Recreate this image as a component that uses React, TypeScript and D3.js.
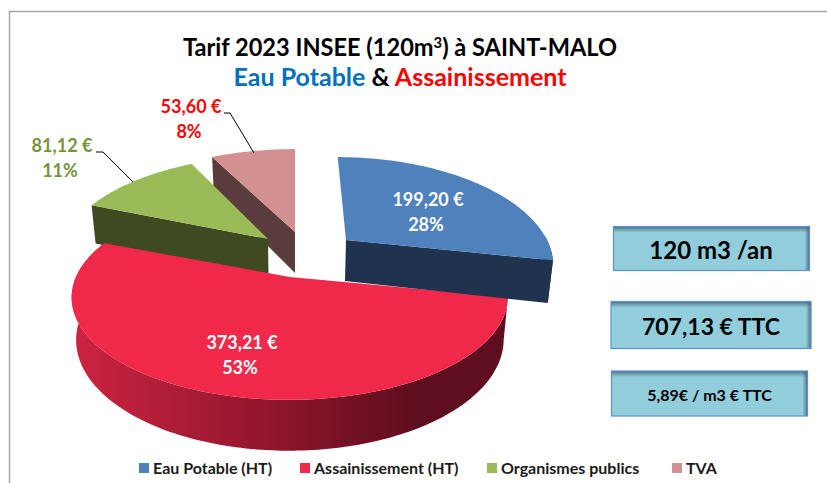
import React from "react";
import * as d3 from "d3";

const categories = ["Eau Potable (HT)", "Assainissement (HT)", "Organismes publics", "TVA"];
const values = [199.2, 373.21, 81.12, 53.6];
const titleLine1 = "Tarif 2023 INSEE (120m";
const titleLine1End = " à SAINT-MALO";
const boxTexts = ["120 m3 /an", "707,13 € TTC", "5,89€ / m3 € TTC"];

const topColors = ["#4f81bd", "#f0294a", "#9bbb59", "#d39090"];
const sideColors = ["#1f334f", "url(#redWall)", "#3f4a23", "#5a3c3c"];
// apex position and horizontal radius of each exploded slice
const apexX = [346, 290, 268, 295];
const apexY = [240, 277, 239, 232];
const radiiX = [201, 214, 205, 212];
const RY = 99, K = 0.194, VPX = 295, DEPTH = 41, SHRINK = 0.98;

const W = 827, H = 483;
const FONT = "Lato, Carlito, 'Open Sans', sans-serif";

const pie = d3.pie<number>().sort(null).startAngle(0).endAngle(2 * Math.PI);
const arcs = pie(values);
const total = d3.sum(values);
const fr = d3.formatLocale({ decimal: ",", thousands: " ", grouping: [3], currency: ["", " €"] });
const money = fr.format("$.2f");
const pct = (v: number) => d3.format(".0f")((v / total) * 100) + "%";

type Pt = [number, number];
function project(i: number, a: number, r = 1, bottom = false): Pt {
  const u = Math.sin(a) * r, v = Math.cos(a) * r;
  const w = 1 + K * v;
  let x = VPX + (apexX[i] - VPX + radiiX[i] * u) / w;
  let y = apexY[i] - (RY * v) / w;
  if (bottom) {
    x = VPX + (x - VPX) * SHRINK;
    y += DEPTH / w;
  }
  return [x, y];
}
const line = d3.line<Pt>().x((d) => d[0]).y((d) => d[1]);
const samples = (a0: number, a1: number) => {
  const n = Math.max(2, Math.ceil(Math.abs(a1 - a0) / 0.02));
  return d3.range(n + 1).map((k) => a0 + ((a1 - a0) * k) / n);
};
function topPath(i: number) {
  const { startAngle: a0, endAngle: a1 } = arcs[i];
  return line([project(i, 0, 0), ...samples(a0, a1).map((a) => project(i, a))]) + "Z";
}
function wallPath(i: number, a0: number, a1: number) {
  const t = samples(a0, a1).map((a) => project(i, a));
  const b = samples(a1, a0).map((a) => project(i, a, 1, true));
  return line([...t, ...b]) + "Z";
}
function radialPath(i: number, a: number) {
  return line([project(i, 0, 0), project(i, a), project(i, a, 1, true), project(i, 0, 0, true)]) + "Z";
}

const rad = (deg: number) => (deg * Math.PI) / 180;

const sliceLabels = [
  { i: 0, x: 428, y: 206, fill: "#fff" },
  { i: 1, x: 242, y: 349, fill: "#fff" },
  { i: 2, x: 62, y: 152, fill: "#77933c" },
  { i: 3, x: 191, y: 113, fill: "#ff0000" },
];
const leaders: Pt[][] = [
  [[96, 152], [103, 152], [133, 182]],
  [[224, 113], [230, 113], [254, 153]],
];
const boxes = [
  { x: 613.5, y: 226.5, w: 196, h: 44, fs: 24, tx: 711 },
  { x: 611, y: 301.5, w: 200, h: 47, fs: 23, tx: 711 },
  { x: 611.5, y: 371, w: 196, h: 45, fs: 16, tx: 709.5 },
];
const legendX = [139, 300, 487, 672];

export default function App() {
  return (
    <svg width={W} height={H} viewBox={`0 0 ${W} ${H}`}
      style={{ position: "absolute", left: 0, top: 0, display: "block", background: "#fff" }}
      fontFamily={FONT} fontWeight={700}>
      <defs>
        <linearGradient id="redWall" gradientUnits="userSpaceOnUse" x1={72} x2={415} y1={0} y2={0}>
          <stop offset="0" stopColor="#cc2441" />
          <stop offset="0.5" stopColor="#99172f" />
          <stop offset="1" stopColor="#5e0e1e" />
        </linearGradient>
        <linearGradient id="shTop" x1="0" x2="0" y1="0" y2="1">
          <stop offset="0" stopColor="#3f5f70" stopOpacity="0.85" />
          <stop offset="1" stopColor="#3f5f70" stopOpacity="0" />
        </linearGradient>
        <linearGradient id="shRight" x1="1" x2="0" y1="0" y2="0">
          <stop offset="0" stopColor="#3f5f70" stopOpacity="0.85" />
          <stop offset="1" stopColor="#3f5f70" stopOpacity="0" />
        </linearGradient>
      </defs>

      <path d="M9.5 483V11.5H827" fill="none" stroke="#a6a6a6" strokeWidth={1.5} />

      <text x={400} y={56} textAnchor="middle" fontSize={24} fill="#000" textLength={434} lengthAdjust="spacingAndGlyphs">
        {titleLine1}
        <tspan dy={-8} fontSize={15}>3</tspan>
        <tspan dy={8}>)</tspan>
        {titleLine1End}
      </text>
      <text x={400} y={86} textAnchor="middle" fontSize={25}>
        <tspan fill="#0070c0">Eau Potable</tspan>
        <tspan fill="#000"> &amp; </tspan>
        <tspan fill="#ff0000">Assainissement</tspan>
      </text>

      {/* TVA */}
      <path d={radialPath(3, arcs[3].startAngle)} fill={sideColors[3]} />
      <path d={topPath(3)} fill={topColors[3]} />
      {/* Organismes */}
      <path d={radialPath(2, arcs[2].startAngle)} fill={sideColors[2]} />
      <path d={topPath(2)} fill={topColors[2]} />
      {/* Assainissement */}
      <path d={wallPath(1, arcs[1].startAngle, arcs[1].endAngle)} fill={sideColors[1]} />
      <path d={topPath(1)} fill={topColors[1]} />
      {/* Eau potable */}
      <path d={radialPath(0, arcs[0].endAngle)} fill={sideColors[0]} />
      <path d={wallPath(0, rad(88), arcs[0].endAngle)} fill={sideColors[0]} />
      <path d={topPath(0)} fill={topColors[0]} />

      {leaders.map((l, i) => (
        <path key={i} d={line(l) ?? ""} fill="none" stroke="#000" strokeWidth={1} />
      ))}

      {sliceLabels.map((l) => (
        <g key={l.i} fontSize={18} fill={l.fill} textAnchor="middle">
          <text x={l.x} y={l.y}>{money(values[l.i])}</text>
          <text x={l.x - 2} y={l.y + 25}>{pct(values[l.i])}</text>
        </g>
      ))}

      {boxes.map((b, i) => (
        <g key={i}>
          <rect x={b.x} y={b.y} width={b.w} height={b.h} fill="#92cddc" />
          <rect x={b.x} y={b.y} width={b.w} height={6} fill="url(#shTop)" />
          <rect x={b.x + b.w - 5} y={b.y} width={5} height={b.h} fill="url(#shRight)" />
          <rect x={b.x} y={b.y} width={b.w} height={b.h} fill="none" stroke="#5b8fd9" strokeWidth={1.2} />
          <text x={b.tx} y={b.y + b.h / 2 + b.fs * 0.36 + 2} textAnchor="middle" fontSize={b.fs} fill="#000">
            {boxTexts[i]}
          </text>
        </g>
      ))}

      {categories.map((c, i) => (
        <g key={c}>
          <rect x={legendX[i]} y={463} width={10} height={10} fill={topColors[i]} />
          <text x={legendX[i] + 14} y={473.5} fontSize={16} fill="#1a1a1a">{c}</text>
        </g>
      ))}
    </svg>
  );
}
